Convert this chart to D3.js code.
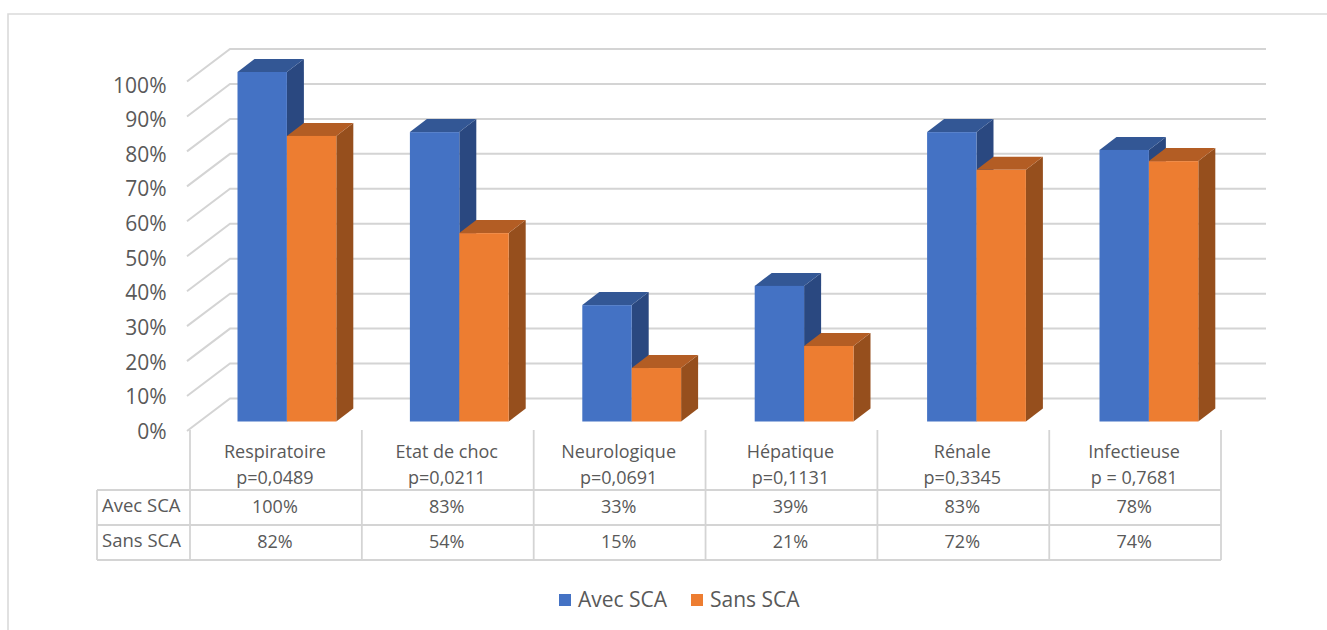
<!DOCTYPE html>
<html><head><meta charset="utf-8">
<script src="https://cdn.jsdelivr.net/npm/d3@7/dist/d3.min.js"></script>
<style>html,body{margin:0;padding:0;background:#fff}svg{display:block}text{font-family:"Open Sans",sans-serif;fill:#595959}</style>
</head><body><svg id="c" width="1327" height="630"></svg>
<script>
const categories=["Respiratoire","Etat de choc","Neurologique","Hépatique","Rénale","Infectieuse"];
const pvalues=["p=0,0489","p=0,0211","p=0,0691","p=0,1131","p=0,3345","p = 0,7681"];
const seriesNames=["Avec SCA","Sans SCA"];
const avecSCA=[100,82.8,33.3,38.8,82.8,77.7];
const sansSCA=[81.7,53.9,15.3,21.6,72,74.5];
const avecLabels=["100%","83%","33%","39%","83%","78%"];
const sansLabels=["82%","54%","15%","21%","72%","74%"];
const ticks=[0,10,20,30,40,50,60,70,80,90,100];
const colors=["#4472C4","#ED7D31"],tops=["#335795","#B35D24"],sides=["#2A4880","#964F1D"];
const grid="#D4D4D4";

const svg=d3.select("#c");
const y=d3.scaleLinear().domain([0,100]).range([421.5,72]);
const labelY=d3.scaleLinear().domain([0,100]).range([439,92.5]);
const DX=17,DY=-13,BW=49.4;
const barLeft=i=>237.5+i*172.4;

// frame
svg.append("path").attr("d","M1327,14H8V630").attr("fill","none").attr("stroke","#DADADA").attr("stroke-width",1.6);

// gridlines
const g=svg.append("g").attr("stroke",grid).attr("fill","none").attr("stroke-width",2);
ticks.forEach(t=>{
  const yf=y(t)+9.5;
  g.append("path").attr("d",`M187,${yf}L230,${yf-32.5}H1266`);
});

// bars
categories.forEach((c,i)=>{
  [avecSCA,sansSCA].forEach((s,k)=>{
    const l=barLeft(i)+k*BW,r=l+BW,t=y(s[i]),b=y(0);
    svg.append("path").attr("fill",sides[k]).attr("d",`M${r},${t}l${DX},${DY}V${b+DY}l${-DX},${-DY}Z`);
    svg.append("path").attr("fill",tops[k]).attr("d",`M${l},${t}l${DX},${DY}H${r+DX}l${-DX},${-DY}Z`);
    svg.append("rect").attr("x",l).attr("y",t).attr("width",BW).attr("height",b-t).attr("fill",colors[k]);
  });
});

// y labels
svg.append("g").selectAll("text").data(ticks).join("text")
  .attr("x",166.5).attr("y",t=>labelY(t)).attr("text-anchor","end")
  .attr("font-size",21).text(t=>t+"%");

// data table
const colX=categories.map((c,i)=>190+i*171.85).concat([1221]);
const rowY=[430,490,525,560];
const tg=svg.append("g").attr("stroke",grid).attr("stroke-width",1.8).attr("fill","none");
colX.forEach(v=>tg.append("line").attr("x1",v).attr("x2",v).attr("y1",rowY[0]).attr("y2",rowY[3]));
rowY.slice(1).forEach(v=>tg.append("line").attr("x1",97).attr("x2",1221).attr("y1",v).attr("y2",v));
tg.append("line").attr("x1",97).attr("x2",97).attr("y1",rowY[1]).attr("y2",rowY[3]);

const cx=i=>(colX[i]+colX[i+1])/2-1;
const fs=18;
categories.forEach((c,i)=>{
  svg.append("text").attr("x",cx(i)).attr("y",458).attr("text-anchor","middle").attr("font-size",fs).text(c);
  svg.append("text").attr("x",cx(i)).attr("y",484).attr("text-anchor","middle").attr("font-size",fs).text(pvalues[i]);
  svg.append("text").attr("x",cx(i)).attr("y",513).attr("text-anchor","middle").attr("font-size",fs).text(avecLabels[i]);
  svg.append("text").attr("x",cx(i)).attr("y",548).attr("text-anchor","middle").attr("font-size",fs).text(sansLabels[i]);
});
seriesNames.forEach((n,k)=>svg.append("text").attr("x",102).attr("y",512+k*35).attr("font-size",18.5).text(n));

// legend
[[559,578],[691,710]].forEach(([a,b],k)=>{
  svg.append("rect").attr("x",a).attr("y",594).attr("width",12).attr("height",12).attr("fill",colors[k]);
  svg.append("text").attr("x",b).attr("y",606.5).attr("font-size",21).text(seriesNames[k]);
});
</script></body></html>
